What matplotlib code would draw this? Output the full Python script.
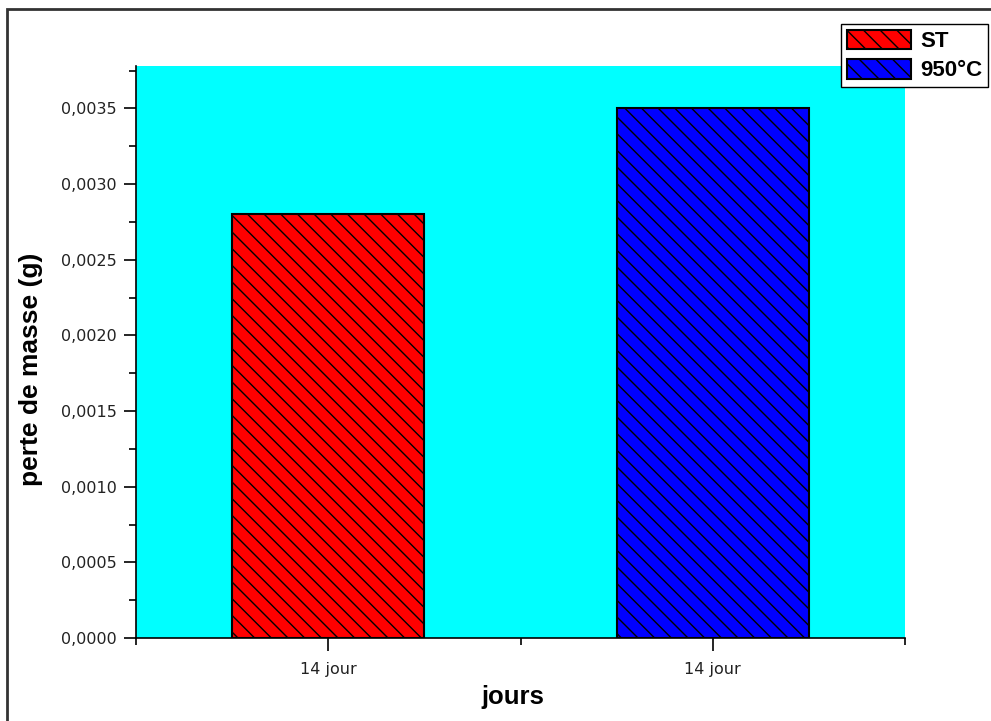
import matplotlib
matplotlib.use('Agg')
import matplotlib.pyplot as plt
from matplotlib.patches import Rectangle
from matplotlib.ticker import MultipleLocator, FuncFormatter, FixedLocator
import numpy as np

# data
series = ['ST', '950°C']
tick_labels = ['14 jour', '14 jour']
mass_loss = [0.0028, 0.0035]
bar_colors = ['#ff0000', '#0000ff']

plt.rcParams['hatch.linewidth'] = 1.0
plt.rcParams['hatch.color'] = 'black'

fig = plt.figure(figsize=(9.91, 7.21), dpi=100)
ax = fig.add_axes([136 / 991, 1 - 638 / 721, (905 - 136) / 991, (638 - 66) / 721])
ax.set_facecolor('#00ffff')

x = np.array([1, 3])
for xi, val, col, name in zip(x, mass_loss, bar_colors, series):
    ax.bar(xi, val, width=1.0, color=col, edgecolor='black', linewidth=1.5,
           hatch='\\\\', label=name, zorder=3)

ax.set_xlim(0, 4)
ax.set_ylim(0, 0.00378)

ax.xaxis.set_major_locator(FixedLocator(x))
ax.xaxis.set_minor_locator(FixedLocator([0, 2, 4]))
ax.set_xticklabels(tick_labels)
ax.yaxis.set_major_locator(MultipleLocator(0.0005))
ax.yaxis.set_minor_locator(MultipleLocator(0.00025))
ax.yaxis.set_major_formatter(FuncFormatter(lambda v, p: f'{v:.4f}'.replace('.', ',')))

for side in ['top', 'right']:
    ax.spines[side].set_visible(False)
for side in ['left', 'bottom']:
    ax.spines[side].set_linewidth(1.2)

ax.tick_params(which='major', direction='out', length=9, width=1.2, labelsize=11.5,
               labelcolor='#222222', pad=5)
ax.tick_params(axis='x', which='major', pad=8)
ax.tick_params(which='minor', direction='out', length=5, width=1.2)
for lbl in ax.get_xticklabels() + ax.get_yticklabels():
    lbl.set_fontfamily('DejaVu Sans')

ax.set_ylabel('perte de masse (g)', fontsize=19, fontweight='bold',
              fontfamily='Liberation Sans')
ax.yaxis.set_label_coords(-0.121, 0.47)
ax.set_xlabel('jours', fontsize=18.5, fontweight='bold',
              fontfamily='Liberation Sans')
ax.xaxis.set_label_coords(0.49, -0.082)

leg = fig.legend(loc='upper right', bbox_to_anchor=(988 / 991, 1 - 24 / 721),
                 prop={'family': 'Liberation Sans', 'weight': 'bold', 'size': 16},
                 handlelength=2.9, handleheight=1.0, handletextpad=0.4,
                 borderpad=0.25, labelspacing=0.3, borderaxespad=0,
                 fancybox=False, framealpha=1)
leg.get_frame().set_edgecolor('black')
leg.get_frame().set_linewidth(1.0)

# page frame
fig.patches.append(Rectangle((7 / 991, -0.05), 1.0, 1 - 9 / 721 + 0.05,
                             transform=fig.transFigure, fill=False,
                             edgecolor='#333333', linewidth=2))

fig.savefig('out.png', dpi=100)
